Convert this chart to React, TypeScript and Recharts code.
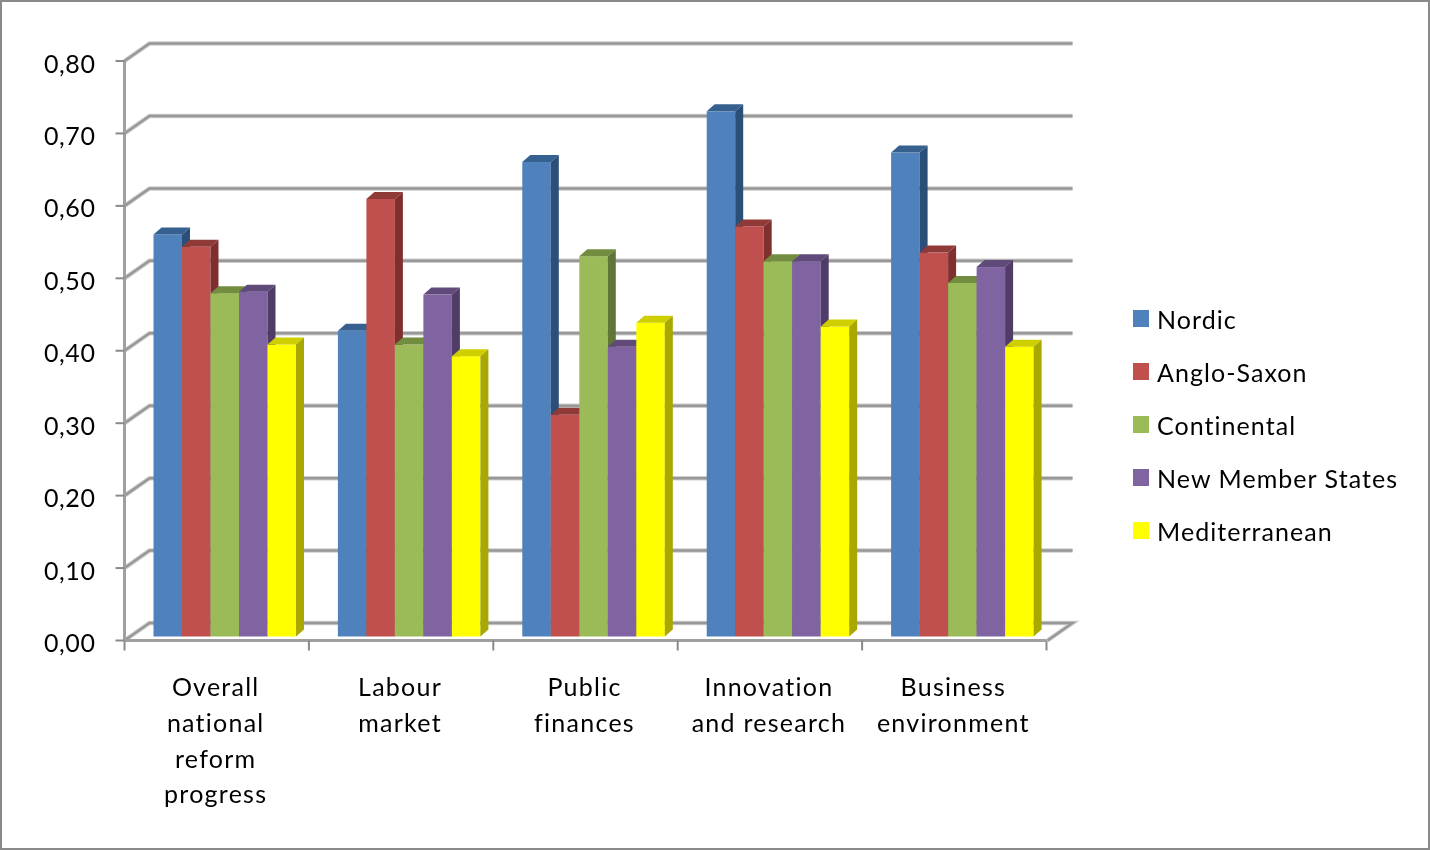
import React from "react";
import { ComposedChart, Bar, XAxis, YAxis, CartesianGrid, Legend } from "recharts";

const categories = ["Overall national reform progress", "Labour market", "Public finances", "Innovation and research", "Business environment"];
const categoryLines = [
  ["Overall", "national", "reform", "progress"],
  ["Labour", "market"],
  ["Public", "finances"],
  ["Innovation", "and research"],
  ["Business", "environment"],
];
const nordic = [0.555, 0.422, 0.655, 0.725, 0.668];
const angloSaxon = [0.538, 0.604, 0.306, 0.566, 0.53];
const continental = [0.474, 0.403, 0.525, 0.518, 0.488];
const newMemberStates = [0.476, 0.472, 0.4, 0.518, 0.51];
const mediterranean = [0.403, 0.387, 0.433, 0.428, 0.4];
const yTicks = [0, 0.1, 0.2, 0.3, 0.4, 0.5, 0.6, 0.7, 0.8];

const seriesList = [
  { name: "Nordic", values: nordic, fill: "#4F81BD", top: "#36608F", side: "#2C4F78" },
  { name: "Anglo-Saxon", values: angloSaxon, fill: "#C0504D", top: "#8F3A37", side: "#7F302E" },
  { name: "Continental", values: continental, fill: "#9BBB59", top: "#728C40", side: "#617636" },
  { name: "New Member States", values: newMemberStates, fill: "#8064A2", top: "#5F4A7A", side: "#4F3D68" },
  { name: "Mediterranean", values: mediterranean, fill: "#FFFF00", top: "#CFCF00", side: "#A8A800" },
];

const data = categories.map((c, i) => {
  const row: Record<string, any> = { category: c };
  seriesList.forEach((s) => (row[s.name] = s.values[i]));
  return row;
});

const FONT = "Lato, Carlito, sans-serif";
const W = 1430, H = 850;
const LEFT = 124.5, RIGHT = 1046.5, TOP = 61, BOTTOM = 640.5;
const CAT_W = (RIGHT - LEFT) / categories.length;
const WALL_DX = 25, WALL_DY = 17.5;
const BAR_DX = 8, BAR_DY = -4, DEPTH_X = 8, DEPTH_Y = 7;
const BAR_EXTRA = 0.5;
const GRID_DARK = "#989898", GRID_LIGHT = "#cfcfcf";

const makeShape = (top: string, side: string, idx: number) => (p: any) => {
  const w = p.width + BAR_EXTRA;
  const x0 = p.x + BAR_DX + idx * BAR_EXTRA, x1 = x0 + w, y0 = p.y + BAR_DY, y1 = y0 + p.height;
  return (
    <g>
      <rect x={x0} y={y0} width={w} height={p.height} fill={p.fill} />
      <polygon points={`${x0},${y0} ${x0 + DEPTH_X},${y0 - DEPTH_Y} ${x1 + DEPTH_X},${y0 - DEPTH_Y} ${x1},${y0}`} fill={top} />
      <polygon points={`${x1},${y0} ${x1 + DEPTH_X},${y0 - DEPTH_Y} ${x1 + DEPTH_X},${y1 - DEPTH_Y} ${x1},${y1}`} fill={side} />
    </g>
  );
};

const gridLine = (p: any) => {
  const y = p.y1;
  const isFloor = Math.abs(y - BOTTOM) < 1;
  const pts = `${p.x1},${y} ${p.x1 + WALL_DX},${y - WALL_DY} ${p.x2 + WALL_DX + 1},${y - WALL_DY}` + (isFloor ? ` ${p.x2 + 1},${y}` : "");
  return (
    <g key={p.key}>
      <polyline points={pts} fill="none" stroke={GRID_LIGHT} strokeWidth={4.5} />
      <polyline points={pts} fill="none" stroke={GRID_DARK} strokeWidth={2.5} />
    </g>
  );
};

const YTick = (p: any) => (
  <g>
    <line x1={p.x + 20} x2={p.x + 29} y1={p.y} y2={p.y} stroke="#8a8a8a" strokeWidth={2} />
    <text x={p.x} y={p.y + 11.5} textAnchor="end" fontFamily={FONT} fontSize={25} letterSpacing={0.6} fill="#000">
      {Number(p.payload.value).toFixed(2).replace(".", ",")}
    </text>
  </g>
);

const XTick = (p: any) => {
  const lines = categoryLines[p.index] || [];
  const left = p.x - CAT_W / 2;
  return (
    <g>
      <line x1={left} x2={left} y1={BOTTOM} y2={BOTTOM + 10} stroke="#8a8a8a" strokeWidth={2} />
      {p.index === categories.length - 1 && (
        <line x1={left + CAT_W} x2={left + CAT_W} y1={BOTTOM} y2={BOTTOM + 10} stroke="#8a8a8a" strokeWidth={2} />
      )}
      {lines.map((l, i) => (
        <text key={l} x={p.x - 1} y={696 + i * 35.8} textAnchor="middle" fontFamily={FONT} fontSize={25} letterSpacing={1.25} fill="#000">
          {l}
        </text>
      ))}
    </g>
  );
};

const LegendBox = (p: any) => (
  <div>
    {(p.payload || []).map((e: any) => (
      <div key={e.value} style={{ display: "flex", alignItems: "center", height: 53 }}>
        <span style={{ width: 16, height: 17, background: e.color, marginRight: 8, flex: "none" }} />
        <span style={{ fontFamily: FONT, fontSize: 25, letterSpacing: 1.05, color: "#000", whiteSpace: "nowrap" }}>{e.value}</span>
      </div>
    ))}
  </div>
);

export default function App() {
  return (
    <div style={{ position: "absolute", left: 0, top: 0, width: W, height: H, background: "#fff", overflow: "hidden" }}>
      <div style={{ filter: "blur(0.6px)" }}>
        <ComposedChart
          width={W}
          height={H}
          data={data}
          barCategoryGap={21}
          barGap={0}
          margin={{ top: TOP, right: W - RIGHT, bottom: 0, left: 0 }}
        >
          <CartesianGrid vertical={false} horizontal={gridLine as any} />
          <XAxis
            dataKey="category"
            interval={0}
            height={H - BOTTOM}
            axisLine={{ stroke: "#a0a0a0", strokeWidth: 3 }}
            tickLine={false}
            tick={XTick as any}
          />
          <YAxis
            type="number"
            domain={[0, 0.8]}
            ticks={yTicks}
            width={LEFT}
            axisLine={{ stroke: "#a0a0a0", strokeWidth: 3 }}
            tickLine={false}
            tickMargin={20}
            tickSize={9}
            tick={YTick as any}
          />
          {seriesList.map((s, i) => (
            <Bar
              key={s.name}
              dataKey={s.name}
              name={s.name}
              fill={s.fill}
              isAnimationActive={false}
              shape={makeShape(s.top, s.side, i) as any}
            />
          ))}
          <Legend
            layout="horizontal"
            verticalAlign="middle"
            align="center"
            itemSorter={null as any}
            content={LegendBox as any}
            wrapperStyle={{ position: "absolute", left: 1133, top: 292, width: 290, height: 265 }}
          />
        </ComposedChart>
      </div>
      <div style={{ position: "absolute", left: 0, top: 0, width: W, height: H, boxSizing: "border-box", border: "2.5px solid #8a8a8a", pointerEvents: "none" }} />
    </div>
  );
}
